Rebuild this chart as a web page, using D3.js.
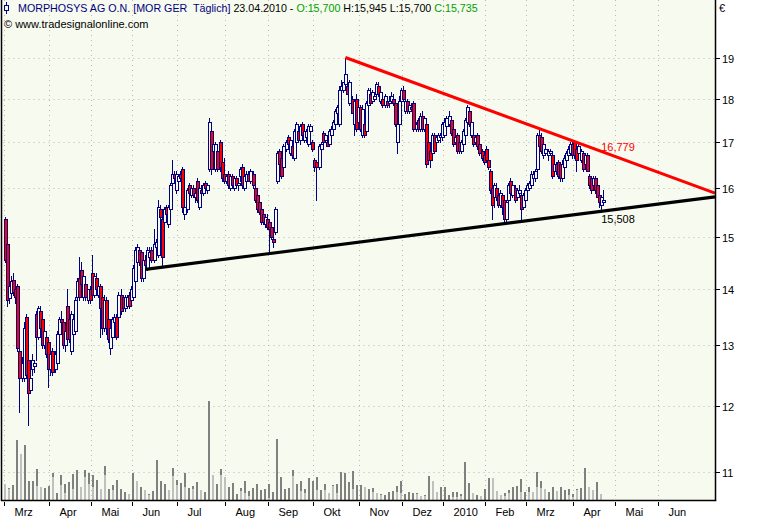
<!DOCTYPE html>
<html><head><meta charset="utf-8">
<script src="https://cdn.jsdelivr.net/npm/d3@7"></script>
<style>body{margin:0;background:#fff}svg text{font-family:"Liberation Sans",Arial,sans-serif;white-space:pre}</style>
</head><body><svg id="c" width="769" height="520"></svg>
<script>
const opens=[15.35,14.85,13.83,13.92,14.17,14.0,14.05,12.9,12.45,12.45,
13.5,12.75,12.25,12.6,12.65,13.55,13.15,13.6,13.45,13.0,
13.15,13.05,12.6,12.9,12.6,12.7,13.2,13.45,13.4,13.0,
13.7,13.45,12.9,13.2,13.25,13.85,14.2,14.35,13.85,14.1,
13.8,14.0,14.3,13.9,14.2,13.9,14.05,13.85,13.3,13.8,
13.45,12.95,13.15,13.4,13.5,13.5,13.9,13.85,13.65,13.7,
13.9,13.8,13.85,14.15,14.5,14.75,14.7,14.2,14.55,14.4,
14.6,14.75,14.55,14.8,14.65,15.55,15.35,15.3,15.6,15.25,
15.55,16.1,16.3,15.95,16.15,16.3,16.4,15.45,15.55,16.05,
15.85,16.0,15.8,16.15,15.6,15.95,15.9,16.1,15.95,16.4,
17.25,16.8,16.4,16.8,17.0,16.55,16.3,16.15,16.3,16.0,
16.25,16.0,16.2,16.05,16.25,16.45,16.0,16.15,16.3,16.15,
16.3,16.0,15.85,15.7,15.55,15.45,15.25,15.35,15.3,15.2,
14.95,15.1,16.15,16.8,16.65,16.45,16.85,17.1,16.75,16.9,
16.65,17.0,17.25,17.05,17.4,17.05,17.1,16.95,17.25,17.0,
16.6,16.55,16.45,16.85,17.2,17.05,17.0,16.95,17.15,17.3,
17.4,17.65,17.4,18.2,18.2,18.35,18.3,17.9,18.0,17.4,
18.0,17.45,17.8,17.15,17.4,17.25,17.85,18.1,17.95,18.0,
18.1,18.3,17.95,18.0,17.85,17.95,17.9,17.95,18.0,17.9,
17.0,17.4,17.95,18.2,17.7,17.95,17.7,17.8,17.9,17.3,
17.5,17.3,17.6,17.3,17.4,17.0,16.8,16.75,17.15,17.0,
17.05,17.1,17.1,17.15,17.35,17.4,17.5,17.3,17.0,17.15,
17.0,16.8,16.95,17.15,17.45,17.7,17.15,17.15,17.0,17.15,
16.95,16.8,16.7,16.85,16.6,16.35,16.0,15.8,16.0,15.85,
15.65,15.85,15.75,15.35,15.75,16.15,15.85,16.0,15.8,15.9,
15.85,15.6,15.75,15.95,16.0,16.05,16.2,16.2,16.4,17.15,
17.1,16.7,16.75,16.7,16.75,16.7,16.35,16.5,16.55,16.5,
16.2,16.45,16.6,16.7,16.75,16.95,17.0,16.85,16.75,16.6,
16.75,16.5,16.7,16.25,16.2,16.05,16.2,16.05,15.85,15.65,15.7];
const highs=[15.4,14.9,14.1,14.25,14.3,14.05,14.1,13.0,12.8,13.4,
13.55,12.8,12.5,12.85,12.75,13.6,13.7,13.7,13.6,13.3,
13.25,13.1,12.9,12.95,12.9,13.25,13.5,13.6,13.45,13.3,
14.0,13.5,13.6,13.5,13.85,14.2,14.6,14.5,14.3,14.2,
14.0,14.05,14.65,14.3,14.3,14.1,14.1,13.9,13.9,13.85,
13.5,13.35,13.5,13.55,13.55,13.95,14.0,13.9,13.9,13.9,
13.95,14.05,14.45,14.8,14.85,14.8,14.75,14.6,14.65,14.8,
14.8,14.8,15.15,14.95,15.75,15.65,15.4,15.6,15.65,15.65,
16.1,16.6,16.35,16.35,16.3,16.35,16.45,15.65,16.0,16.1,
16.05,16.05,15.95,16.2,16.05,16.05,16.1,16.15,16.1,17.55,
17.3,17.0,17.0,16.85,17.05,16.6,16.65,16.3,16.35,16.3,
16.3,16.25,16.25,16.2,16.45,16.5,16.3,16.35,16.35,16.4,
16.35,16.05,15.9,15.75,15.6,15.5,15.45,15.45,15.35,15.25,
15.05,15.6,16.8,16.85,16.7,16.95,17.05,17.15,17.1,16.95,
17.3,17.45,17.35,17.4,17.45,17.3,17.3,17.4,17.4,17.05,
16.65,16.6,16.95,17.0,17.25,17.2,17.1,17.3,17.35,17.5,
17.75,17.85,18.3,18.45,18.4,19.0,18.35,18.45,18.05,18.0,
18.1,17.85,17.85,17.85,17.5,17.95,18.25,18.25,18.2,18.1,
18.4,18.4,18.25,18.05,18.1,18.05,18.05,18.15,18.1,17.95,
17.5,18.05,18.25,18.3,18.0,18.0,17.9,17.9,17.95,17.45,
17.55,17.65,17.7,17.6,17.45,17.05,16.85,17.2,17.2,17.15,
17.2,17.2,17.45,17.55,17.6,17.7,17.55,17.35,17.15,17.2,
17.05,17.05,17.3,17.55,17.85,17.75,17.5,17.2,17.15,17.2,
17.0,16.85,16.75,16.9,16.65,16.4,16.05,16.1,16.1,15.95,
15.95,15.9,15.8,15.75,16.1,16.2,16.1,16.05,16.0,16.05,
15.9,15.9,16.0,16.1,16.15,16.35,16.35,16.4,17.2,17.3,
17.2,17.0,16.9,16.85,16.85,16.75,16.55,16.55,16.6,16.55,
16.6,16.7,16.8,16.9,17.0,17.0,17.05,16.9,16.95,16.85,
16.8,16.75,16.75,16.3,16.25,16.25,16.25,16.1,15.9,15.85,15.945];
const lows=[14.5,13.7,13.75,13.85,13.9,13.75,12.9,11.9,12.4,12.4,
12.45,11.7,12.2,12.5,12.55,12.75,13.1,13.2,12.95,12.95,
12.8,12.3,12.5,12.5,12.55,12.65,13.15,13.3,12.95,12.9,
13.05,13.05,12.85,13.15,13.2,13.8,13.8,14.1,13.8,13.8,
13.75,13.75,13.9,13.85,13.95,13.85,13.15,13.2,13.25,13.2,
13.05,12.85,13.1,13.35,13.1,13.45,13.55,13.6,13.6,13.65,
13.65,13.75,13.8,14.1,14.45,14.45,14.15,14.15,14.4,14.35,
14.5,14.5,14.5,14.6,14.6,15.3,14.45,15.25,15.4,15.2,
15.5,16.05,16.15,15.9,16.0,16.15,15.5,15.35,15.5,15.85,
15.8,15.8,15.7,15.7,15.55,15.85,15.85,15.95,15.9,16.35,
16.3,16.75,16.35,16.35,16.35,16.15,16.1,16.1,16.0,15.95,
16.0,15.95,16.0,15.95,16.15,16.0,15.95,16.0,16.15,16.1,
16.0,15.7,15.5,15.45,15.25,15.25,15.2,15.15,14.7,14.95,
14.8,15.05,16.1,16.45,16.2,16.4,16.8,16.9,16.7,16.65,
16.6,16.95,17.0,16.95,17.1,17.0,17.0,16.9,17.15,16.8,
16.35,15.75,16.4,16.8,16.95,17.0,16.9,16.9,17.1,17.25,
17.35,17.6,17.35,17.85,18.15,18.3,18.1,17.85,17.65,17.15,
17.25,17.4,17.25,17.1,17.1,17.2,17.8,17.9,17.9,17.95,
18.05,18.05,17.9,17.8,17.8,17.8,17.8,17.9,17.85,17.35,
16.75,17.35,17.9,17.95,17.65,17.65,17.65,17.7,17.25,17.25,
17.25,17.25,17.25,17.25,16.45,16.5,16.45,16.7,16.75,16.9,
17.0,17.0,17.05,17.1,17.3,17.35,17.15,16.9,16.95,16.75,
16.75,16.75,16.9,17.1,17.4,17.35,17.1,16.9,16.95,16.85,
16.7,16.6,16.5,16.55,16.4,15.9,15.35,15.6,15.75,15.6,
15.6,15.45,15.3,15.3,15.7,15.85,15.8,15.7,15.75,15.8,
15.35,15.55,15.7,15.9,15.95,16.0,16.15,16.15,16.35,16.85,
16.75,16.65,16.7,16.6,16.7,16.2,16.3,16.3,16.2,16.15,
16.15,16.4,16.5,16.65,16.7,16.65,16.65,16.35,16.7,16.55,
16.35,16.45,16.35,16.0,15.9,16.0,15.9,15.8,15.6,15.55,15.7];
const closes=[14.55,13.8,14.05,14.15,13.95,13.85,12.95,12.45,12.7,13.3,
12.5,12.2,12.45,12.75,12.7,13.15,13.65,13.3,13.0,13.25,
12.85,12.6,12.85,12.55,12.85,13.2,13.45,13.4,13.0,13.25,
13.1,13.1,13.55,13.45,13.8,14.15,13.85,14.1,14.25,13.85,
14.0,13.8,13.9,14.25,14.0,14.05,13.65,13.3,13.8,13.3,
13.1,13.3,13.45,13.5,13.15,13.9,13.6,13.65,13.85,13.85,
13.7,14.0,14.4,14.75,14.8,14.5,14.2,14.55,14.45,14.75,
14.7,14.55,14.85,14.9,15.6,15.4,14.6,15.55,15.45,15.6,
16.05,16.3,16.2,16.3,16.25,16.2,15.6,15.6,15.95,15.9,
16.0,15.85,15.9,15.75,16.0,15.9,16.05,16.0,16.05,17.45,
16.4,16.95,16.95,16.4,16.45,16.2,16.15,16.25,16.05,16.25,
16.05,16.2,16.05,16.1,16.4,16.05,16.25,16.3,16.15,16.35,
16.05,15.75,15.55,15.5,15.3,15.3,15.4,15.2,15.15,15.0,
14.9,15.55,16.75,16.5,16.25,16.9,17.0,16.95,17.05,16.7,
17.25,17.4,17.05,17.35,17.15,17.25,17.25,17.35,17.35,16.85,
16.45,16.45,16.9,16.95,17.0,17.15,16.9,17.25,17.3,17.45,
17.7,17.8,18.2,18.3,18.4,18.6,18.1,18.4,17.65,17.95,
17.3,17.8,17.3,17.75,17.15,17.9,18.2,17.9,18.15,18.05,
18.35,18.1,18.15,17.85,18.05,17.85,17.95,18.05,17.9,17.4,
17.4,17.95,18.2,18.0,17.95,17.7,17.85,17.75,17.3,17.4,
17.3,17.6,17.3,17.55,16.5,16.6,16.6,17.15,16.8,17.1,
17.15,17.15,17.4,17.45,17.55,17.6,17.2,16.95,17.1,16.8,
16.8,17.0,17.25,17.5,17.8,17.4,17.45,16.95,17.1,16.9,
16.75,16.65,16.55,16.6,16.45,15.95,15.65,16.05,15.8,15.65,
15.9,15.6,15.35,15.7,16.05,15.9,16.05,15.75,15.95,15.95,
15.55,15.85,15.95,16.05,16.1,16.3,16.3,16.35,17.15,16.9,
16.8,16.95,16.85,16.8,16.8,16.25,16.5,16.35,16.25,16.2,
16.5,16.65,16.75,16.85,16.95,16.7,16.7,16.6,16.9,16.8,
16.4,16.7,16.35,16.05,15.95,16.2,15.95,15.8,15.7,15.8,15.735];
const volDark=[16,12,15,60,46,55,19,19,31,13,12,14,27,7,25,16,18,26,30,13,
30,27,25,20,11,34,11,15,20,11,8,6,27,19,13,10,6,9,40,19,
16,10,32,20,17,27,12,14,18,10,8,99,25,16,31,23,13,17,6,12,
19,9,12,16,10,11,16,8,61,23,11,12,30,16,19,11,22,19,23,10,
16,7,15,16,28,27,18,29,15,15,13,11,12,7,6,5,8,9,14,19,
6,8,7,7,4,5,24,19,8,13,13,5,8,8,6,38,17,7,5,4,
11,22,22,9,5,7,10,13,14,21,8,13,8,28,19,11,8,13,9,13,
10,11,6,11,12,32,13,10,18,6];
const volLight=[16,11,0,0,46,0,0,0,14,13,0,0,23,0,15,7,0,11,0,13,
23,16,13,0,11,25,0,10,0,0,0,6,0,19,0,10,5,0,0,0,
0,10,24,15,0,13,0,11,0,10,0,0,25,0,25,23,0,0,0,9,
7,4,0,0,0,0,2,0,0,0,0,0,24,0,9,7,0,0,10,0,
10,7,14,7,0,0,0,11,0,0,13,0,8,7,5,0,0,0,8,7,
0,0,0,6,4,4,0,19,8,0,0,0,3,3,4,0,0,7,0,4,
0,0,22,9,5,4,7,0,0,8,0,8,8,13,12,11,0,0,9,0,
0,5,3,10,0,0,13,10,0,6];
const monthLabels=["Mrz","Apr","Mai","Jun","Jul","Aug","Sep","Okt","Nov","Dez","2010","Feb","Mrz","Apr","Mai","Jun"];
const monthStart=[0,22,42,62,84,107,128,150,172,193,213,233,253,276,296,317];
const priceTicks=[11,12,13,14,15,16,17,18,19];
const redTrend=[{i:165,v:19.0},{i:344.2,v:15.89}];
const blackTrend=[{i:68,v:14.37},{i:344.2,v:15.81}];
const trendValues=[16.779,15.508];
const title={name:"MORPHOSYS AG O.N. [MOR GER  Täglich]",date:"23.04.2010",source:"© www.tradesignalonline.com"};

const BG="#f7faee", NAVY="#000080", RED="#ff0000";
const L=1.5,R=715.5,T=0,B=500;
const svg=d3.select("#c");
svg.append("rect").attr("width",769).attr("height",520).attr("fill","#fff");
svg.append("rect").attr("x",L).attr("y",T).attr("width",R-L).attr("height",B-T).attr("fill",BG);
svg.append("defs").append("clipPath").attr("id","pc").append("rect").attr("x",L).attr("y",T).attr("width",R-L).attr("height",B-T);

const x=d3.scaleLinear().domain([-0.5,344.2]).range([4,715]);
const y=d3.scaleLog().domain([10.601,20.497]).range([500,0]);
const vx=d3.scaleLinear().domain([0,volDark.length-1]).range([x(-0.5),x(288.5)]);
const vy=d3.scaleLinear().domain([0,100]).range([500,400]);

// grid
const g=svg.append("g");
g.selectAll("line.h").data(priceTicks).join("line").attr("x1",L+2).attr("x2",R-1)
 .attr("y1",d=>Math.round(y(d))+0.5).attr("y2",d=>Math.round(y(d))+0.5)
 .attr("stroke","#b8b8b8").attr("stroke-dasharray","1,4");
g.selectAll("line.v").data(monthStart).join("line")
 .attr("x1",d=>Math.round(x(d-0.5))+0.5).attr("x2",d=>Math.round(x(d-0.5))+0.5)
 .attr("y1",T).attr("y2",B).attr("stroke","#b8b8b8").attr("stroke-dasharray","1,4");

// volume
const vg=svg.append("g").attr("clip-path","url(#pc)").attr("shape-rendering","crispEdges");
vg.selectAll("rect.d").data(volDark).join("rect")
 .attr("x",(d,k)=>Math.round(vx(k))).attr("width",2)
 .attr("y",d=>vy(d)).attr("height",d=>500-vy(d)).attr("fill","#808080");
vg.selectAll("rect.l").data(volLight).join("rect")
 .attr("x",(d,k)=>Math.round(vx(k))).attr("width",2)
 .attr("y",d=>vy(d)).attr("height",d=>500-vy(d)).attr("fill","#c0c0c0");

// candles
const cg=svg.append("g").attr("clip-path","url(#pc)").attr("shape-rendering","crispEdges");
closes.forEach((c,i)=>{
  const o=opens[i],h=highs[i],l=lows[i];
  const cx=Math.round(x(i));
  cg.append("line").attr("x1",cx+0.5).attr("x2",cx+0.5)
    .attr("y1",Math.round(y(h))).attr("y2",Math.round(y(l))+1).attr("stroke",NAVY);
  const top=Math.round(y(Math.max(o,c))), bot=Math.round(y(Math.min(o,c)));
  cg.append("rect").attr("x",cx-1+0.5).attr("y",top+0.5).attr("width",3).attr("height",Math.max(1,bot-top))
    .attr("fill",c<o?RED:BG).attr("stroke",NAVY).attr("stroke-width",1);
});

// trendlines
const line=d3.line().x(d=>x(d.i)).y(d=>y(d.v));
const tg=svg.append("g").attr("clip-path","url(#pc)");
tg.append("path").attr("d",line(blackTrend)).attr("stroke","#000").attr("stroke-width",3.2).attr("fill","none");
tg.append("path").attr("d",line(redTrend)).attr("stroke",RED).attr("stroke-width",3).attr("fill","none");
const last=closes.length-1;
svg.append("text").attr("x",x(last)-2).attr("y",y(trendValues[0])-1).attr("font-size",11).attr("fill",RED)
 .text(trendValues[0].toFixed(3).replace(".",","));
svg.append("text").attr("x",x(last)-2).attr("y",y(trendValues[1])+11).attr("font-size",11).attr("fill","#000")
 .text(trendValues[1].toFixed(3).replace(".",","));

// borders
svg.append("line").attr("x1",1.5).attr("x2",1.5).attr("y1",0).attr("y2",501).attr("stroke","#000").attr("stroke-width",1.5);
svg.append("line").attr("x1",R).attr("x2",R).attr("y1",0).attr("y2",501).attr("stroke","#000").attr("stroke-width",1.5);
svg.append("line").attr("x1",1).attr("x2",R+0.7).attr("y1",500.5).attr("y2",500.5).attr("stroke","#000").attr("stroke-width",1.5);

// y axis
const ya=svg.append("g");
priceTicks.forEach(t=>{
  const yy=Math.round(y(t))+0.5;
  ya.append("line").attr("x1",716).attr("x2",720).attr("y1",yy).attr("y2",yy).attr("stroke","#000").attr("shape-rendering","crispEdges");
  ya.append("text").attr("x",722).attr("y",yy+4).attr("font-size",11).attr("fill","#000").text(t);
});
svg.append("text").attr("x",719).attr("y",12).attr("font-size",11).text("€");

// x axis
monthStart.forEach((s,k)=>{
  const xx=Math.round(x(s-0.5))+0.5;
  svg.append("line").attr("x1",xx).attr("x2",xx).attr("y1",502).attr("y2",506).attr("stroke","#000").attr("shape-rendering","crispEdges");
  svg.append("text").attr("x",xx+10).attr("y",516).attr("font-size",11).text(monthLabels[k]);
});

// title
const fmt=v=>v.toFixed(3).replace(".",",");
const ic=svg.append("g").attr("stroke",NAVY).attr("fill","none").attr("shape-rendering","crispEdges");
ic.append("line").attr("x1",6.5).attr("x2",6.5).attr("y1",2).attr("y2",14);
ic.append("rect").attr("x",4.5).attr("y",5.5).attr("width",4).attr("height",5).attr("fill",BG);
const tt=svg.append("text").attr("x",18).attr("y",12).attr("font-size",10.7);
tt.append("tspan").attr("fill",NAVY).text(title.name);
tt.append("tspan").attr("fill","#000").text(" "+title.date+" - ");
tt.append("tspan").attr("fill","#00a000").text("O:"+fmt(opens[last]));
tt.append("tspan").attr("fill","#000").text(" H:"+fmt(highs[last])+" L:"+fmt(lows[last])+" ");
tt.append("tspan").attr("fill","#00a000").text("C:"+fmt(closes[last]));
svg.append("text").attr("x",4).attr("y",28).attr("font-size",11).attr("fill","#000").text(title.source);
</script></body></html>
